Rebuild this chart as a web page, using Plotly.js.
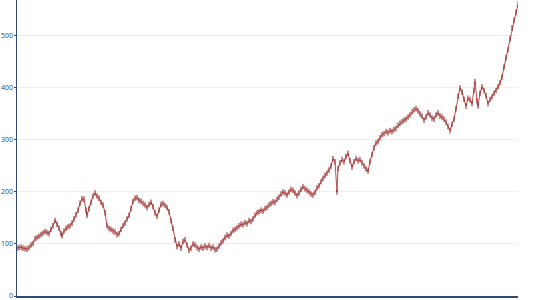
<!DOCTYPE html>
<html>
<head>
<meta charset="utf-8">
<script src="https://cdn.plot.ly/plotly-3.0.1.min.js"></script>
<style>html,body{margin:0;padding:0;background:#fff;}#chart{width:545px;height:300px;}</style>
</head>
<body>
<div id="chart"></div>
<script>
const xPos = [17,19,21,23,25,27,29,31,33,35,37,39,41,43,45,47,49,51,53,55,57,59,61,62,64,66,68,70,72,74,76,78,80,82,84,86,87,89,91,93,95,97,99,101,103,105,107,109,111,113,115,117,119,121,123,125,127,129,131,133,135,137,139,141,143,145,147,149,151,153,155,157,159,161,163,165,167,169,171,173,175,177,179,181,183,185,187,189,191,193,195,197,199,201,203,205,207,209,211,213,215,217,219,221,223,225,227,229,231,233,235,237,239,241,243,245,247,249,251,253,255,257,259,261,263,265,267,269,271,273,275,277,279,281,283,285,287,289,291,293,295,297,299,301,303,305,307,309,311,313,315,317,319,321,323,325,327,329,331,333,335,337,338,340,342,344,346,348,350,352,354,356,358,360,362,364,366,368,370,372,374,376,378,380,382,384,386,388,390,392,394,396,398,400,402,404,406,408,410,412,414,416,418,420,422,424,426,428,430,432,434,436,438,440,442,444,446,448,450,452,454,456,458,460,462,464,466,468,470,472,474,475,477,478,480,482,484,486,488,490,492,494,496,498,500,502,504,506,508,510,512,514,516,518];
const prices = [92,93,94,92,91,90,93,98,101,110,112,115,118,121,124,122,120,128,135,145,138,130,120,116,125,130,133,135,140,148,156,165,178,187,186,165,155,168,180,192,198,192,188,180,175,160,135,130,128,125,123,118,120,128,135,140,148,155,168,182,188,189,184,182,178,175,170,176,180,172,160,153,165,176,178,174,170,162,145,130,108,95,100,92,105,108,98,88,92,100,98,93,90,94,92,96,93,97,92,94,89,90,96,102,106,112,117,115,120,126,128,131,135,138,137,141,139,145,143,148,155,160,162,165,163,168,170,175,178,181,180,186,190,196,200,198,194,200,205,203,198,193,198,205,210,206,203,200,196,194,199,208,212,220,226,232,236,242,250,264,258,200,245,256,262,258,268,274,260,248,258,264,260,262,256,250,244,240,258,272,285,294,297,304,310,312,316,314,318,316,320,322,328,332,335,338,340,344,348,354,358,360,356,350,346,338,344,352,348,342,340,348,352,346,344,340,334,326,318,330,340,360,384,400,392,378,365,380,377,370,395,412,375,365,390,402,395,385,370,378,383,390,395,402,410,421,440,458,473,495,515,530,545,560];
const yTicks = [0,100,200,300,400,500];

const trace = {
  type: 'scatter',
  mode: 'lines+markers',
  x: xPos,
  y: prices,
  line: {color: 'rgba(180,50,50,0.85)', width: 1},
  marker: {color: 'rgb(140,25,25)', size: 4, symbol: 'line-ns-open', line: {color: 'rgb(145,28,28)', width: 1}},
  hoverinfo: 'skip'
};

const layout = {
  width: 545,
  height: 300,
  margin: {l: 17, r: 27, t: 0, b: 4},
  paper_bgcolor: '#ffffff',
  plot_bgcolor: '#ffffff',
  showlegend: false,
  xaxis: {
    range: [17, 518],
    showgrid: false,
    zeroline: false,
    showticklabels: false,
    ticks: '',
    showline: true,
    linecolor: '#2f4b6e',
    linewidth: 1.5
  },
  yaxis: {
    range: [0, 569],
    tickvals: yTicks,
    ticktext: yTicks.map(String),
    ticks: 'outside',
    ticklen: 2,
    tickcolor: '#2f4b6e',
    ticklabelstandoff: -1,
    ticklabeloverflow: 'allow',
    tickfont: {family: 'Open Sans, sans-serif', size: 7, color: '#2a3f5f'},
    showgrid: true,
    gridcolor: '#eeeeee',
    gridwidth: 1,
    zeroline: false,
    showline: true,
    linecolor: '#2f4b6e',
    linewidth: 1.5
  }
};

Plotly.newPlot('chart', [trace], layout, {displayModeBar: false, staticPlot: true});
</script>
</body>
</html>
